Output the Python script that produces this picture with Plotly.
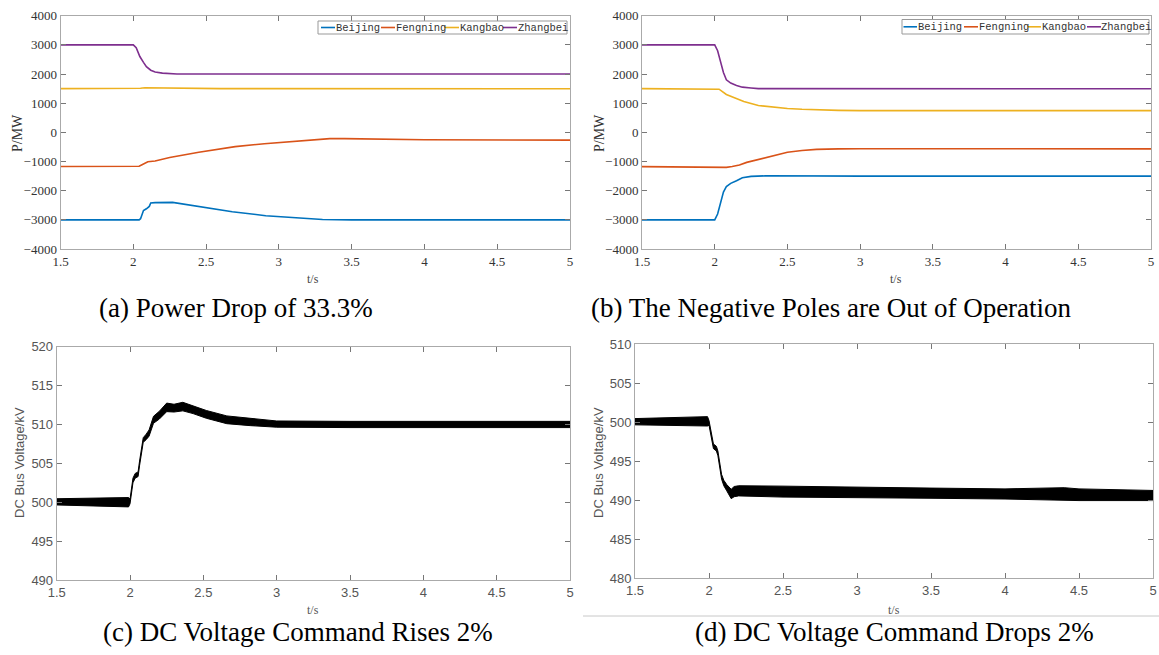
import plotly.graph_objects as go

W, H = 1159, 655

# ---------------- data ----------------
series_names = ["Beijing", "Fengning", "Kangbao", "Zhangbei"]
series_colors = ["#0072BD", "#D95319", "#EDB120", "#7E2F8E"]

# (a) Power drop of 33.3%
a_beijing_t = [1.5, 2.04, 2.05, 2.06, 2.07, 2.09, 2.11, 2.12, 2.15, 2.27, 2.45, 2.68, 2.91, 3.14, 3.3, 3.5, 5.0]
a_beijing_p = [-3000, -3000, -2960, -2800, -2680, -2620, -2540, -2420, -2410, -2400, -2540, -2720, -2860, -2950, -2990, -3000, -3000]
a_fengning_t = [1.5, 2.0, 2.04, 2.06, 2.08, 2.1, 2.15, 2.25, 2.45, 2.7, 2.9, 3.1, 3.25, 3.35, 3.45, 3.6, 4.0, 5.0]
a_fengning_p = [-1170, -1170, -1165, -1110, -1050, -1010, -980, -860, -680, -490, -390, -310, -240, -215, -215, -230, -255, -265]
a_kangbao_t = [1.5, 2.0, 2.05, 2.08, 2.15, 2.3, 2.6, 5.0]
a_kangbao_p = [1500, 1500, 1510, 1530, 1525, 1510, 1500, 1495]
a_zhangbei_t = [1.5, 2.0, 2.02, 2.045, 2.07, 2.09, 2.12, 2.15, 2.2, 2.25, 2.3, 5.0]
a_zhangbei_p = [3000, 3000, 2900, 2600, 2400, 2250, 2130, 2070, 2030, 2010, 2000, 2000]

# (b) Negative poles out of operation
b_beijing_t = [1.5, 2.0, 2.02, 2.04, 2.06, 2.08, 2.11, 2.15, 2.19, 2.25, 2.35, 3.0, 5.0]
b_beijing_p = [-3000, -3000, -2800, -2400, -2050, -1860, -1750, -1660, -1555, -1510, -1490, -1500, -1500]
b_fengning_t = [1.5, 2.0, 2.05, 2.08, 2.12, 2.17, 2.22, 2.3, 2.4, 2.5, 2.6, 2.7, 2.85, 3.0, 5.0]
b_fengning_p = [-1175, -1175, -1180, -1200, -1170, -1120, -1030, -930, -790, -680, -620, -585, -565, -560, -565]
b_kangbao_t = [1.5, 2.0, 2.03, 2.08, 2.14, 2.2, 2.3, 2.4, 2.5, 2.6, 2.7, 2.85, 3.0, 5.0]
b_kangbao_p = [1500, 1500, 1480, 1300, 1180, 1060, 920, 860, 820, 790, 770, 755, 745, 745]
b_zhangbei_t = [1.5, 2.0, 2.02, 2.04, 2.06, 2.08, 2.11, 2.15, 2.19, 2.25, 2.3, 5.0]
b_zhangbei_p = [3000, 3000, 2800, 2400, 2050, 1800, 1690, 1610, 1550, 1520, 1500, 1495]

# (c) DC voltage command rises 2%  (band centre and half-width of the noisy trace)
c_t = [1.5, 1.85, 1.99, 2.0, 2.01, 2.02, 2.035, 2.055, 2.065, 2.08, 2.09, 2.11, 2.13, 2.16, 2.2, 2.25, 2.3, 2.36, 2.43, 2.52, 2.66, 2.82, 3.0, 3.5, 4.0, 4.5, 5.0]
c_v = [500.05, 500.05, 500.0, 500.1, 501.5, 502.8, 503.4, 503.6, 505.0, 507.0, 508.0, 508.4, 508.9, 510.6, 511.2, 512.2, 512.1, 512.3, 511.9, 511.3, 510.6, 510.3, 510.05, 510.0, 510.0, 510.0, 510.0]
c_hw = [0.4, 0.55, 0.6, 0.3, 0.3, 0.3, 0.3, 0.3, 0.3, 0.3, 0.3, 0.35, 0.4, 0.45, 0.5, 0.55, 0.5, 0.55, 0.5, 0.5, 0.5, 0.45, 0.4, 0.4, 0.4, 0.4, 0.4]

# (d) DC voltage command drops 2%
d_t = [1.5, 1.85, 1.99, 2.0, 2.02, 2.03, 2.05, 2.06, 2.085, 2.1, 2.12, 2.15, 2.17, 2.2, 2.5, 3.0, 3.5, 4.0, 4.4, 4.5, 5.0]
d_v = [500.05, 500.1, 500.1, 499.9, 497.7, 496.9, 496.6, 496.0, 493.0, 492.2, 491.6, 490.8, 491.1, 491.2, 491.1, 491.0, 490.9, 490.8, 490.8, 490.7, 490.6]
d_hw = [0.4, 0.55, 0.6, 0.3, 0.3, 0.3, 0.3, 0.3, 0.3, 0.35, 0.4, 0.6, 0.65, 0.65, 0.7, 0.65, 0.65, 0.65, 0.8, 0.75, 0.65]

x_ticks = [1.5, 2, 2.5, 3, 3.5, 4, 4.5, 5]
p_ticks = [-4000, -3000, -2000, -1000, 0, 1000, 2000, 3000, 4000]
c_ticks = [490, 495, 500, 505, 510, 515, 520]
d_ticks = [480, 485, 490, 495, 500, 505, 510]

captions = ["(a) Power Drop of 33.3%", "(b) The Negative Poles are Out of Operation",
            "(c) DC Voltage Command Rises 2%", "(d) DC Voltage Command Drops 2%"]

# ---------------- layout helpers ----------------
def fx(x):
    return x / W

def fy(y):
    return 1 - y / H

fig = go.Figure()

a_data = [(a_beijing_t, a_beijing_p), (a_fengning_t, a_fengning_p), (a_kangbao_t, a_kangbao_p), (a_zhangbei_t, a_zhangbei_p)]
b_data = [(b_beijing_t, b_beijing_p), (b_fengning_t, b_fengning_p), (b_kangbao_t, b_kangbao_p), (b_zhangbei_t, b_zhangbei_p)]

for (t, p), name, col in zip(a_data, series_names, series_colors):
    fig.add_trace(go.Scatter(x=t, y=p, mode="lines", name=name, line=dict(color=col, width=1.6),
                             xaxis="x", yaxis="y", showlegend=False))
for (t, p), name, col in zip(b_data, series_names, series_colors):
    fig.add_trace(go.Scatter(x=t, y=p, mode="lines", name=name, line=dict(color=col, width=1.6),
                             xaxis="x2", yaxis="y2", showlegend=False))

def band(t, v, hw, xa, ya):
    lo = [a - b for a, b in zip(v, hw)]
    hi = [a + b for a, b in zip(v, hw)]
    fig.add_trace(go.Scatter(x=t, y=lo, mode="lines", line=dict(color="black", width=1),
                             xaxis=xa, yaxis=ya, showlegend=False))
    fig.add_trace(go.Scatter(x=t, y=hi, mode="lines", line=dict(color="black", width=1),
                             fill="tonexty", fillcolor="black",
                             xaxis=xa, yaxis=ya, showlegend=False))

band(c_t, c_v, c_hw, "x3", "y3")
band(d_t, d_v, d_hw, "x4", "y4")

serif = "Liberation Serif"
sans = "Liberation Sans"

def xax(l, r, anchor, fam, col):
    return dict(domain=[fx(l), fx(r)], anchor=anchor, range=[1.5, 5], tickvals=x_ticks,
                ticks="inside", ticklen=5, tickcolor="#777", showline=True, linecolor="#aaa",
                linewidth=1, mirror="ticks", showgrid=False, zeroline=False, automargin=False,
                tickfont=dict(family=fam, size=13, color=col))

def yax(t, b, anchor, rng, tv, fam, col):
    return dict(domain=[fy(b), fy(t)], anchor=anchor, range=rng, tickvals=tv,
                ticks="inside", ticklen=5, tickcolor="#777", showline=True, linecolor="#aaa",
                linewidth=1, mirror="ticks", showgrid=False, zeroline=False, automargin=False,
                tickfont=dict(family=fam, size=13, color=col))

fig.update_layout(
    width=W, height=H, margin=dict(l=0, r=0, t=0, b=0, autoexpand=False),
    paper_bgcolor="white", plot_bgcolor="white", showlegend=False,
    xaxis=xax(60.5, 570, "y", serif, "#333"),
    yaxis=yax(15.7, 249, "x", [-4000, 4000], p_ticks, serif, "#333"),
    xaxis2=xax(642, 1151, "y2", serif, "#333"),
    yaxis2=yax(15.7, 249, "x2", [-4000, 4000], p_ticks, serif, "#333"),
    xaxis3=xax(56.7, 570, "y3", sans, "#555"),
    yaxis3=yax(346.7, 580, "x3", [490, 520], c_ticks, sans, "#555"),
    xaxis4=xax(635, 1153, "y4", sans, "#555"),
    yaxis4=yax(344, 578.3, "x4", [480, 510], d_ticks, sans, "#555"),
)

ann = []
shapes = []

def text(x, y, s, size, fam, col="#000", angle=0, xanchor="center"):
    ann.append(dict(x=fx(x), y=fy(y), xref="paper", yref="paper", text=s, showarrow=False,
                    xanchor=xanchor, yanchor="middle", textangle=angle,
                    font=dict(family=fam, size=size, color=col)))

# axis titles
text(313, 279, "t/s", 12, serif, "#444")
text(896, 279, "t/s", 12, serif, "#444")
text(313, 610, "t/s", 12, serif, "#555")
text(894, 610, "t/s", 12, serif, "#555")
text(17, 133, "P/MW", 14, serif, "#333", -90)
text(599, 133, "P/MW", 14, serif, "#333", -90)
text(19, 463, "DC Bus Voltage/kV", 13, sans, "#555", -90)
text(598, 463, "DC Bus Voltage/kV", 13, sans, "#555", -90)

# captions
text(236, 308, captions[0], 27, serif)
text(831, 308, captions[1], 27, serif)
text(298, 632, captions[2], 27, serif)
text(894, 632, captions[3], 27, serif)

# separator line under panel (d)
shapes.append(dict(type="line", xref="paper", yref="paper", x0=fx(583), x1=fx(1159), y0=fy(616), y1=fy(616),
                   line=dict(color="#c8c8c8", width=1)))

# manual legends
def legend(box, items, ymid):
    shapes.append(dict(type="rect", xref="paper", yref="paper", x0=fx(box[0]), x1=fx(box[1]),
                       y0=fy(box[3]), y1=fy(box[2]), line=dict(color="#999", width=1), fillcolor="white",
                       layer="above"))
    for (l0, l1, tx), name, col in zip(items, series_names, series_colors):
        shapes.append(dict(type="line", xref="paper", yref="paper", x0=fx(l0), x1=fx(l1), y0=fy(ymid), y1=fy(ymid),
                           line=dict(color=col, width=1.6), layer="above"))
        text(tx, ymid, name, 10.5, "Liberation Mono", "#333", 0, "left")

legend((318, 567, 21, 34), [(321, 335, 334), (381, 395, 394), (444, 459, 458), (503, 517, 516)], 27.5)
legend((902, 1149, 19.5, 34), [(903.5, 917, 916), (964, 978, 977), (1027, 1041, 1040), (1087, 1101, 1099)], 26.8)

fig.update_layout(annotations=ann, shapes=shapes)

fig.write_html("out.html")
